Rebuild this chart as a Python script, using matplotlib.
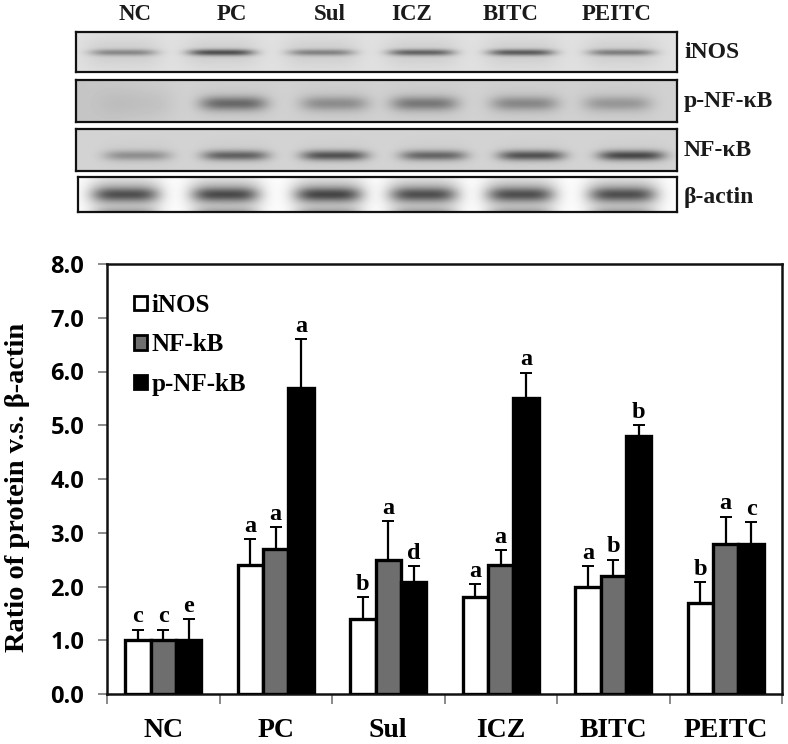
import numpy as np
import matplotlib
matplotlib.use("Agg")
import matplotlib.pyplot as plt
from matplotlib.patches import Patch

W, H = 788, 744
SERIF = "Liberation Serif"
SANS = "Open Sans"

groups = ["NC", "PC", "Sul", "ICZ", "BITC", "PEITC"]
inos = [1.0, 2.4, 1.4, 1.8, 2.0, 1.7]
inos_top = [1.2, 2.88, 1.8, 2.05, 2.38, 2.08]
nfkb = [1.0, 2.7, 2.5, 2.4, 2.2, 2.8]
nfkb_top = [1.2, 3.1, 3.22, 2.68, 2.5, 3.3]
pnfkb = [1.0, 5.7, 2.08, 5.5, 4.8, 2.8]
pnfkb_top = [1.4, 6.6, 2.38, 5.98, 5.0, 3.2]
inos_let = ["c", "a", "b", "a", "a", "b"]
nfkb_let = ["c", "a", "a", "a", "b", "a"]
pnfkb_let = ["e", "a", "d", "a", "b", "c"]
yticks = [0, 1, 2, 3, 4, 5, 6, 7, 8]

# blot lanes: centre x, band darkness
inos_lane = [123, 221, 321, 421, 521, 621]
inos_dark = [0.28, 0.50, 0.30, 0.42, 0.45, 0.32]
p_lane = [135, 233, 334, 424, 524, 617]
p_dark = [0.0, 0.36, 0.22, 0.30, 0.24, 0.18]
nf_lane = [137, 235, 334, 433, 531, 631]
nf_dark = [0.24, 0.42, 0.48, 0.40, 0.48, 0.52]
actin_lane = [125, 225, 328, 423, 520, 622]
actin_dark = [0.34, 0.36, 0.38, 0.34, 0.34, 0.34]


def px_axes(fig, x0, y0, x1, y1):
    return fig.add_axes([x0 / W, 1 - y1 / H, (x1 - x0) / W, (y1 - y0) / H])


def blot(fig, box, lanes, dark, yc, bg, sx, sy, halo=0.05, left_dark=0.0, low=0.0):
    x0, y0, x1, y1 = box
    xx, yy = np.meshgrid(np.arange(x0, x1), np.arange(y0, y1))
    img = np.full(xx.shape, bg, dtype=float)
    img -= left_dark * np.clip((x0 + 110 - xx) / 110, 0, 1)
    for lane, d in zip(lanes, dark):
        across = np.exp(-(np.abs(xx - lane) / sx) ** 4)
        img -= d * across * np.exp(-((yy - yc) / sy) ** 2)
        img -= halo * np.exp(-(np.abs(xx - lane) / (sx * 1.15)) ** 4) * np.exp(-((yy - yc) / 16.0) ** 2)
        img -= low * across * np.exp(-((yy - y1) / 5.0) ** 2)
    ax = px_axes(fig, *box)
    ax.imshow(img, cmap="gray", vmin=0, vmax=1, aspect="auto", interpolation="bilinear",
              extent=(x0, x1, y1, y0))
    ax.set_xticks([])
    ax.set_yticks([])
    for s in ax.spines.values():
        s.set_linewidth(1.6)
        s.set_color("#111111")
    return ax


fig = plt.figure(figsize=(W / 100, H / 100), dpi=100, facecolor="white")

blot(fig, (76, 32, 677, 72), inos_lane, inos_dark, 52, 0.88, 33, 3.2, halo=0.07)
blot(fig, (76, 80, 677, 122), p_lane, p_dark, 103, 0.82, 33, 7.0, halo=0.05, left_dark=0.05)
blot(fig, (76, 129, 677, 171), nf_lane, nf_dark, 155, 0.83, 33, 5.0, halo=0.03)
blot(fig, (78, 177, 677, 212), actin_lane, actin_dark, 194, 0.99, 32, 6.5, halo=0.34, low=0.25)

# lane names over the blots
for name, x in zip(groups, [135, 232, 330, 412, 511, 617]):
    fig.text(x / W, 1 - 14 / H, name, family=SERIF, weight="bold", fontsize=16.5,
             ha="center", va="center", color="#1a1a1a")
# protein names beside them
for name, y in zip(["iNOS", "p-NF-κB", "NF-κB", "β-actin"], [52, 102, 150, 197]):
    fig.text(684 / W, 1 - y / H, name, family=SERIF, weight="bold", fontsize=17,
             ha="left", va="center", color="#1a1a1a")

ax = px_axes(fig, 107, 264, 782, 694)
x = np.arange(len(groups))
w = 0.225
lw = 2.4
series = [
    (inos, inos_top, inos_let, "white", -w),
    (nfkb, nfkb_top, nfkb_let, "#6e6e6e", 0),
    (pnfkb, pnfkb_top, pnfkb_let, "black", w),
]
for vals, tops, lets, col, off in series:
    ax.bar(x + off, vals, w, color=col, edgecolor="black", linewidth=lw, zorder=3)
    err = np.array(tops) - np.array(vals)
    ax.errorbar(x + off, vals, yerr=[np.zeros(len(err)), err], fmt="none", ecolor="black",
                elinewidth=1.6, capsize=4.5, capthick=1.4, zorder=2)
    for xi, t, l in zip(x + off, tops, lets):
        ax.text(xi, t + 0.04, l, family=SERIF, weight="bold", fontsize=17.5,
                ha="center", va="bottom", color="black")

ax.set_xlim(-0.5, 5.5)
ax.set_ylim(0, 8)
ax.set_yticks(yticks)
ax.set_yticklabels(["%.1f" % v for v in yticks], family=SANS, weight="bold", fontsize=17)
ax.set_xticks(np.arange(-0.5, 6, 1))
ax.set_xticklabels([])
ax.set_xticks(x, minor=True)
ax.set_xticklabels(groups, minor=True, family=SERIF, weight="bold", fontsize=20)
ax.tick_params(axis="x", which="major", length=7, width=1.2, color="#777777")
ax.tick_params(axis="x", which="minor", length=0, pad=17)
ax.tick_params(axis="y", length=6.5, width=1.2, color="#777777", pad=10)
for s in ax.spines.values():
    s.set_linewidth(1.8)
    s.set_color("#111111")
ax.set_ylabel("Ratio of protein v.s. β-actin", family=SERIF, weight="bold", fontsize=20.5)
ax.yaxis.set_label_coords(-0.114, 0.48)

handles = [
    Patch(facecolor="white", edgecolor="black", linewidth=2, label="iNOS"),
    Patch(facecolor="#6e6e6e", edgecolor="black", linewidth=2, label="NF-kB"),
    Patch(facecolor="black", edgecolor="black", linewidth=2, label="p-NF-kB"),
]
ax.legend(handles=handles, loc="upper left", bbox_to_anchor=(0.04, 0.93), frameon=False,
          handlelength=0.5, handleheight=0.5, handletextpad=0.2, labelspacing=0.65,
          borderpad=0, borderaxespad=0,
          prop={"family": SERIF, "weight": "bold", "size": 18})

fig.savefig("out.png", dpi=100)
